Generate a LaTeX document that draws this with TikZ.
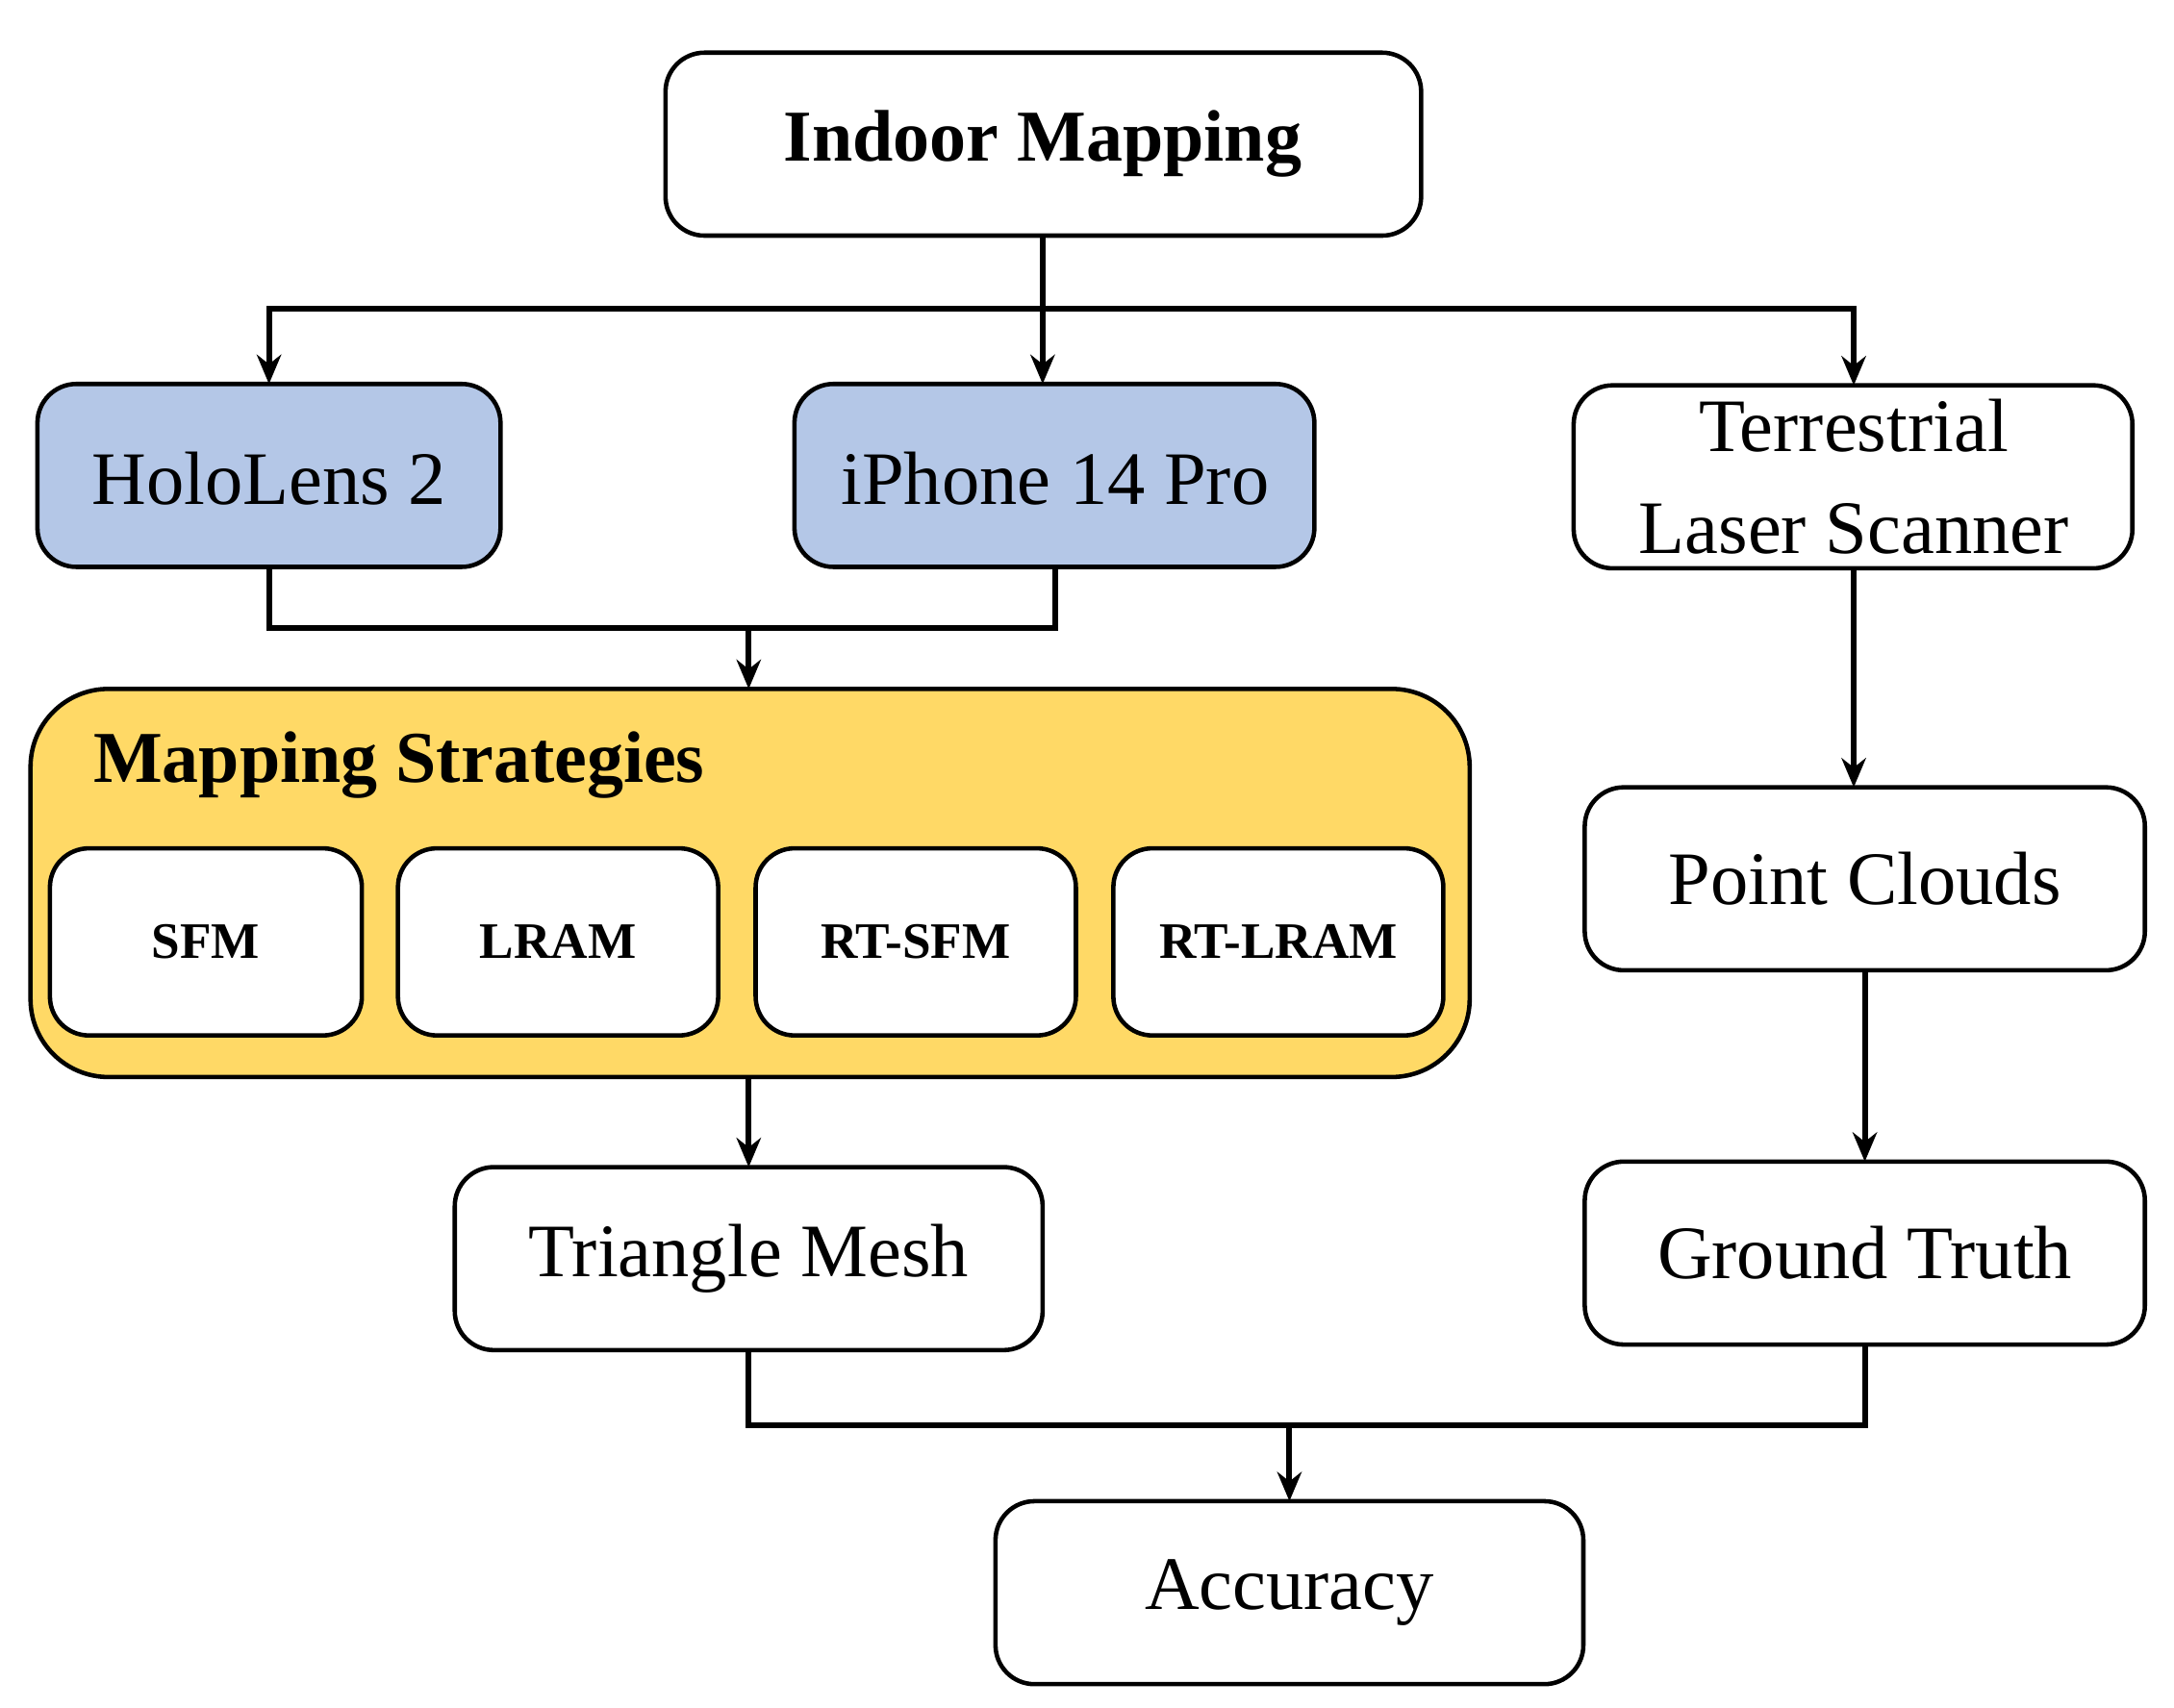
\documentclass[tikz,border=0pt]{standalone}
\usepackage{fontspec}
\setmainfont{Liberation Serif}
\usetikzlibrary{arrows.meta}
\definecolor{blu}{RGB}{180,199,231}
\definecolor{yel}{RGB}{255,217,102}
\tikzset{nf/.style={font=\fontsize{15.5}{19}\selectfont}}
\begin{document}
\begin{tikzpicture}[x=0.1mm,y=-0.1mm,
 bx/.style={draw,line width=0.9pt,rounded corners=8pt,fill=white,align=center,inner sep=0pt},
 ar/.style={line width=1.2pt,-{Stealth[length=6pt,width=5pt]}},
 ln/.style={line width=1.2pt}]
\useasboundingbox (0,0) rectangle (1568,1232);
\newcommand{\bxx}[6]{\node[bx,#6,minimum width={(#3-#2)*0.1mm},minimum height={(#5-#4)*0.1mm}] (#1) at ({(#2+#3)/2},{(#4+#5)/2}) {};}
\bxx{im}{480}{1025}{38}{170}{}
\node[font=\bfseries\fontsize{15}{18}\selectfont] at (752,104) {Indoor Mapping};
\bxx{hl}{27}{361}{277}{409}{fill=blu}
\node[nf] at (194,345) {HoloLens 2};
\bxx{ip}{573}{948}{277}{409}{fill=blu}
\node[nf] at (761,345) {iPhone 14 Pro};
\bxx{tls}{1135}{1538}{278}{410}{}
\node[nf,align=center,font=\fontsize{15.5}{21}\selectfont] at (1337,344) {Terrestrial\\Laser Scanner};
\bxx{ms}{22}{1060}{497}{777}{fill=yel,rounded corners=16pt}
\node[font=\bfseries\fontsize{15}{18}\selectfont,anchor=west] at (55,552) {Mapping Strategies};
\bxx{sfm}{36}{261}{612}{747}{}
\bxx{lram}{287}{518}{612}{747}{}
\bxx{rtsfm}{545}{776}{612}{747}{}
\bxx{rtlram}{803}{1041}{612}{747}{}
\foreach \n/\t in {sfm/SFM,lram/LRAM,rtsfm/RT-SFM,rtlram/RT-LRAM}
  \node[font=\bfseries\fontsize{10.5}{13}\selectfont] at (\n) {\t};
\bxx{pc}{1143}{1547}{568}{700}{}
\node[nf] at (pc) {Point Clouds};
\bxx{tm}{328}{752}{842}{974}{}
\node[nf] at (tm) {Triangle Mesh};
\bxx{gt}{1143}{1547}{838}{970}{}
\node[nf] at (gt) {Ground Truth};
\bxx{acc}{718}{1142}{1083}{1215}{}
\node[nf] at (acc) {Accuracy};
% connectors
\draw[ar] (752,170) -- (752,277);
\draw[ar] (752,223) -| (194,277);
\draw[ar] (752,223) -| (1337,278);
\draw[ln] (194,409) |- (761,453) -- (761,409);
\draw[ar] (540,453) -- (540,497);
\draw[ar] (540,777) -- (540,842);
\draw[ar] (1337,410) -- (1337,568);
\draw[ar] (1345,700) -- (1345,838);
\draw[ln] (540,974) |- (1345,1028) -- (1345,970);
\draw[ar] (930,1028) -- (930,1083);
\end{tikzpicture}
\end{document}
